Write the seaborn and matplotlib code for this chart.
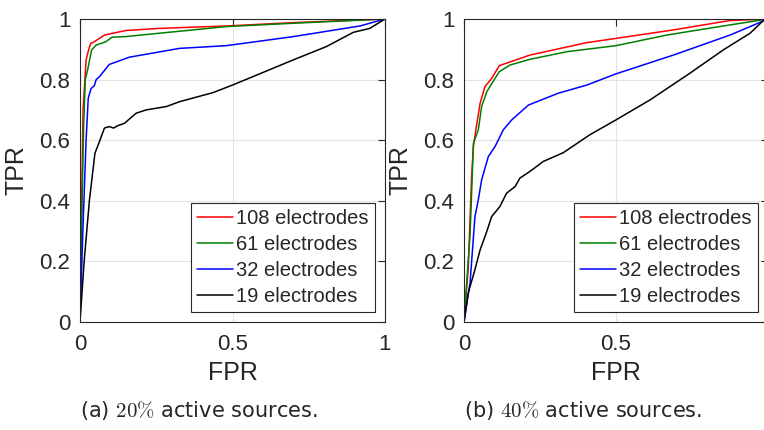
import numpy as np
import pandas as pd
import matplotlib
matplotlib.use("Agg")
import matplotlib.pyplot as plt
import seaborn as sns

# --- data (FPR, TPR pairs) ---
labels = ["108 electrodes", "61 electrodes", "32 electrodes", "19 electrodes"]
colors = ["#ff0000", "#008000", "#0000ff", "#000000"]

# (a) 20% active sources
a_fpr_108 = [0, 0.004, 0.010, 0.020, 0.030, 0.036, 0.047, 0.080, 0.150, 0.260, 0.480, 0.700, 1.0]
a_tpr_108 = [0, 0.300, 0.700, 0.865, 0.905, 0.920, 0.925, 0.947, 0.962, 0.969, 0.977, 0.988, 1.0]
a_fpr_61 = [0, 0.005, 0.012, 0.0175, 0.025, 0.038, 0.053, 0.085, 0.105, 0.150, 0.480, 0.700, 1.0]
a_tpr_61 = [0, 0.300, 0.650, 0.802, 0.832, 0.898, 0.914, 0.925, 0.940, 0.942, 0.975, 0.986, 1.0]
a_fpr_32 = [0, 0.009, 0.020, 0.027, 0.036, 0.047, 0.053, 0.064, 0.096, 0.162, 0.326, 0.480, 0.700, 0.918, 1.0]
a_tpr_32 = [0, 0.290, 0.600, 0.738, 0.770, 0.780, 0.800, 0.810, 0.850, 0.874, 0.903, 0.912, 0.942, 0.977, 1.0]
a_fpr_19 = [0, 0.014, 0.031, 0.049, 0.064, 0.080, 0.096, 0.110, 0.124, 0.146, 0.184, 0.217, 0.283,
            0.326, 0.436, 0.500, 0.589, 0.699, 0.808, 0.896, 0.950, 1.0]
a_tpr_19 = [0, 0.205, 0.403, 0.557, 0.596, 0.640, 0.645, 0.640, 0.648, 0.656, 0.689, 0.700, 0.711,
            0.727, 0.757, 0.782, 0.819, 0.865, 0.909, 0.956, 0.969, 1.0]

# (b) 40% active sources
b_fpr_108 = [0, 0.014, 0.025, 0.031, 0.039, 0.053, 0.069, 0.091, 0.116, 0.217, 0.404, 0.500, 0.689, 0.875, 1.0]
b_tpr_108 = [0, 0.180, 0.480, 0.580, 0.634, 0.722, 0.777, 0.804, 0.846, 0.881, 0.922, 0.936, 0.964, 0.995, 1.0]
b_fpr_61 = [0, 0.020, 0.031, 0.047, 0.058, 0.075, 0.102, 0.116, 0.151, 0.217, 0.338, 0.500, 0.667, 0.853, 1.0]
b_tpr_61 = [0, 0.290, 0.590, 0.634, 0.711, 0.760, 0.804, 0.826, 0.848, 0.867, 0.892, 0.912, 0.947, 0.977, 1.0]
b_fpr_32 = [0, 0.020, 0.036, 0.047, 0.058, 0.080, 0.102, 0.113, 0.129, 0.157, 0.212, 0.310, 0.404, 0.500,
            0.689, 0.875, 1.0]
b_tpr_32 = [0, 0.130, 0.348, 0.403, 0.469, 0.546, 0.579, 0.601, 0.634, 0.667, 0.716, 0.755, 0.782, 0.819,
            0.881, 0.947, 1.0]
b_fpr_19 = [0, 0.014, 0.036, 0.053, 0.075, 0.091, 0.118, 0.140, 0.168, 0.184, 0.217, 0.261, 0.327, 0.414,
            0.500, 0.612, 0.743, 0.853, 0.941, 0.987, 1.0]
b_tpr_19 = [0, 0.096, 0.173, 0.238, 0.299, 0.348, 0.381, 0.425, 0.447, 0.475, 0.497, 0.530, 0.559, 0.618,
            0.667, 0.733, 0.821, 0.898, 0.953, 0.997, 1.0]

panels = [
    ([a_fpr_108, a_fpr_61, a_fpr_32, a_fpr_19], [a_tpr_108, a_tpr_61, a_tpr_32, a_tpr_19]),
    ([b_fpr_108, b_fpr_61, b_fpr_32, b_fpr_19], [b_tpr_108, b_tpr_61, b_tpr_32, b_tpr_19]),
]
captions = [r"(a) $20\%$ active sources.", r"(b) $40\%$ active sources."]
xticks = [0, 0.5, 1]
yticks = [0, 0.2, 0.4, 0.6, 0.8, 1]

sns.set_theme(style="white")
plt.rcParams['font.family'] = ['Liberation Sans', 'DejaVu Sans']
plt.rcParams['mathtext.fontset'] = 'cm'

fig = plt.figure(figsize=(7.64, 4.30), dpi=100)
W, H = 764, 430
positions = [
    [80 / W, (430 - 322) / H, 305 / W, 303 / H],
    [464 / W, (430 - 322) / H, 304 / W, 303 / H],
]
caption_x = [199 / W, 583 / W]

for pos, (fprs, tprs), cap, cx in zip(positions, panels, captions, caption_x):
    ax = fig.add_axes(pos)
    rows = []
    for lab, fx, ty in zip(labels, fprs, tprs):
        for i, (f, t) in enumerate(zip(fx, ty)):
            rows.append({"FPR": f, "TPR": t, "set": lab, "order": i})
    df = pd.DataFrame(rows)
    sns.lineplot(data=df, x="FPR", y="TPR", hue="set", hue_order=labels,
                 palette=colors, sort=False, estimator=None, units="set",
                 linewidth=1.1, ax=ax)
    ax.set_xlim(0, 1)
    ax.set_ylim(0, 1)
    ax.set_xticks(xticks)
    ax.set_yticks(yticks)
    ax.set_xticklabels(["%g" % v for v in xticks])
    ax.set_yticklabels(["%g" % v for v in yticks])
    ax.grid(True, color="#e3e3e3", linewidth=0.8)
    ax.tick_params(direction="in", length=5, width=0.8, colors="#262626",
                   labelsize=16, top=True, right=True, pad=7)
    ax.tick_params(axis="x", pad=9)
    for s in ax.spines.values():
        s.set_color("#262626")
        s.set_linewidth(0.8)
    ax.set_xlabel("FPR", fontsize=18, color="#262626", labelpad=4)
    ax.set_ylabel("TPR", fontsize=18, color="#262626", labelpad=8)
    leg = ax.legend(loc="lower right", fontsize=14.5, handlelength=1.8,
                    handletextpad=0.15, labelspacing=0.35, borderpad=0.3,
                    borderaxespad=0.5, fancybox=False, framealpha=1,
                    edgecolor="#262626")
    leg.get_frame().set_linewidth(0.8)
    fig.text(cx, (430 - 410) / H, cap, ha="center", va="center", fontsize=15,
             family=['DejaVu Sans'])

fig.savefig("out.png", dpi=100)
